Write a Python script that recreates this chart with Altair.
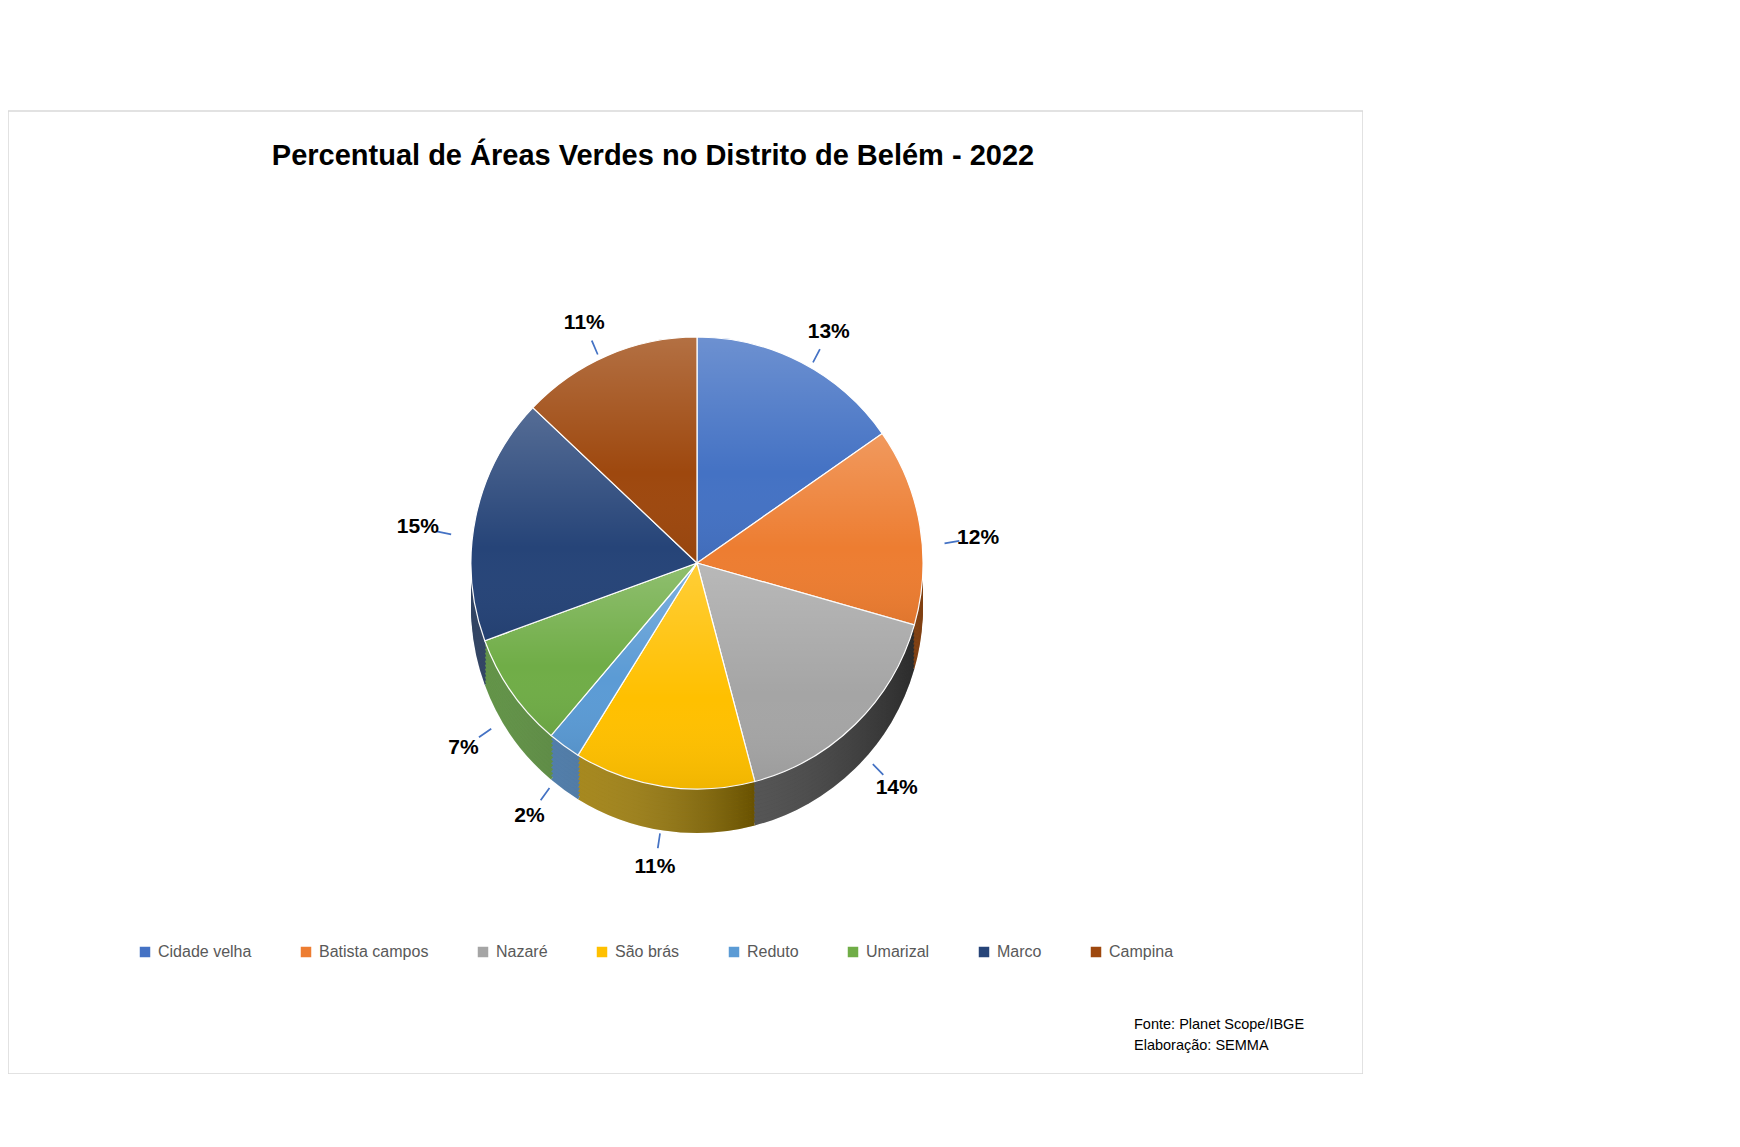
import altair as alt
import pandas as pd

# ---- data ----
names = ["Cidade velha", "Batista campos", "Nazaré", "São brás",
         "Reduto", "Umarizal", "Marco", "Campina"]
values = [13, 12, 14, 11, 2, 7, 15, 11]
labels = ["13%", "12%", "14%", "11%", "2%", "7%", "15%", "11%"]

top_colors = ["#4472C4", "#ED7D31", "#A5A5A5", "#FFC000",
              "#5B9BD5", "#70AD47", "#264478", "#9E480E"]
side_colors = ["#2F528F", "#B35A1A", "#404040", "#9A7800",
               "#3A6C9E", "#4E8530", "#182D50", "#6A300A"]

title_text = "Percentual de Áreas Verdes no Distrito de Belém - 2022"
source_text = "Fonte: Planet Scope/IBGE\nElaboração: SEMMA"

df = pd.DataFrame({"name": names, "value": values, "label": labels,
                   "idx": list(range(len(names)))})

# ---- layout constants (pixels inside the plot area) ----
W, H = 1355, 963
CX, CY, R, T = 689, 452, 226, 44
FONT = "Liberation Sans"

theta_scale = alt.Scale(nice=False, zero=True)
base = alt.Chart(df)


def slice_layer(dy, colors, legend=None, stroke=None):
    mk = dict(radius=R)
    if stroke:
        mk.update(stroke=stroke, strokeWidth=1.2)
    col = alt.Color("name:N", sort=names,
                    scale=alt.Scale(domain=names, range=colors),
                    legend=legend)
    return base.mark_arc(**mk).encode(
        theta=alt.Theta("value:Q", stack=True, scale=theta_scale),
        order=alt.Order("idx:Q"),
        color=col,
        x=alt.value(CX), y=alt.value(CY + dy),
    )


def overlay_layer(dy, gradient):
    return base.mark_arc(radius=R, fill=gradient).encode(
        theta=alt.Theta("value:Q", stack=True, scale=theta_scale),
        order=alt.Order("idx:Q"),
        detail="name:N",
        x=alt.value(CX), y=alt.value(CY + dy),
    )


side_grad = alt.Gradient(
    gradient="linear", x1=0, x2=1, y1=0, y2=0,
    stops=[alt.GradientStop(color="rgba(255,255,255,0.12)", offset=0),
           alt.GradientStop(color="rgba(0,0,0,0.32)", offset=1)])
top_grad = alt.Gradient(
    gradient="linear", x1=0, x2=0, y1=0, y2=1,
    stops=[alt.GradientStop(color="rgba(255,255,255,0.22)", offset=0),
           alt.GradientStop(color="rgba(255,255,255,0.0)", offset=0.6),
           alt.GradientStop(color="rgba(0,0,0,0.06)", offset=1)])

layers = []
for dy in range(T, 0, -4):
    layers.append(slice_layer(dy, side_colors))
    layers.append(overlay_layer(dy, side_grad))

legend = alt.Legend(
    title=None, orient="none", legendX=129, legendY=833,
    direction="horizontal", symbolType="square", symbolSize=110,
    labelFontSize=16, labelFont=FONT, labelColor="#595959",
    columnPadding=46, labelOffset=5, symbolStrokeWidth=0)

layers.append(slice_layer(0, top_colors, legend=legend, stroke="white"))
layers.append(overlay_layer(0, top_grad))

# leader lines: very thin radial wedges at each slice's mid angle
leaders = base.transform_window(
    cum="sum(value)", sort=[alt.SortField("idx")], frame=[None, 0]
).transform_calculate(
    lo="datum.cum - datum.value / 2 - 0.045",
    hi="datum.cum - datum.value / 2 + 0.045",
).mark_arc(radius=R + T / 2 + 3, radius2=R + T / 2 + 18,
           fill="#4472C4").encode(
    theta=alt.Theta("lo:Q", scale=theta_scale),
    theta2="hi:Q",
    x=alt.value(CX), y=alt.value(CY + T / 2),
)
layers.append(leaders)

pct = base.mark_text(radius=R + T / 2 + 37, font=FONT, fontSize=21,
                     fontWeight="bold", color="black").encode(
    theta=alt.Theta("value:Q", stack=True, scale=theta_scale),
    order=alt.Order("idx:Q"),
    detail="name:N",
    text="label:N",
    x=alt.value(CX), y=alt.value(CY + T / 2),
)
layers.append(pct)

title = alt.Chart(pd.DataFrame({"t": [title_text]})).mark_text(
    font=FONT, fontSize=29, fontWeight="bold",
    color="black", align="center", baseline="middle").encode(
    text="t:N", x=alt.value(645), y=alt.value(45))
layers.append(title)

source = alt.Chart(pd.DataFrame({"t": [source_text]})).mark_text(
    font=FONT, fontSize=14.5, color="black",
    align="left", baseline="top", lineBreak="\n", lineHeight=21).encode(
    text="t:N", x=alt.value(1126), y=alt.value(907))
layers.append(source)

chart = alt.layer(*layers).resolve_scale(color="independent").properties(
    width=W, height=H,
    padding={"left": 0, "top": 103, "right": 0, "bottom": 0},
).configure_view(stroke="#d9d9d9", strokeWidth=1.5)

chart.save("out.html", embed_options={"renderer": "svg", "actions": False})
